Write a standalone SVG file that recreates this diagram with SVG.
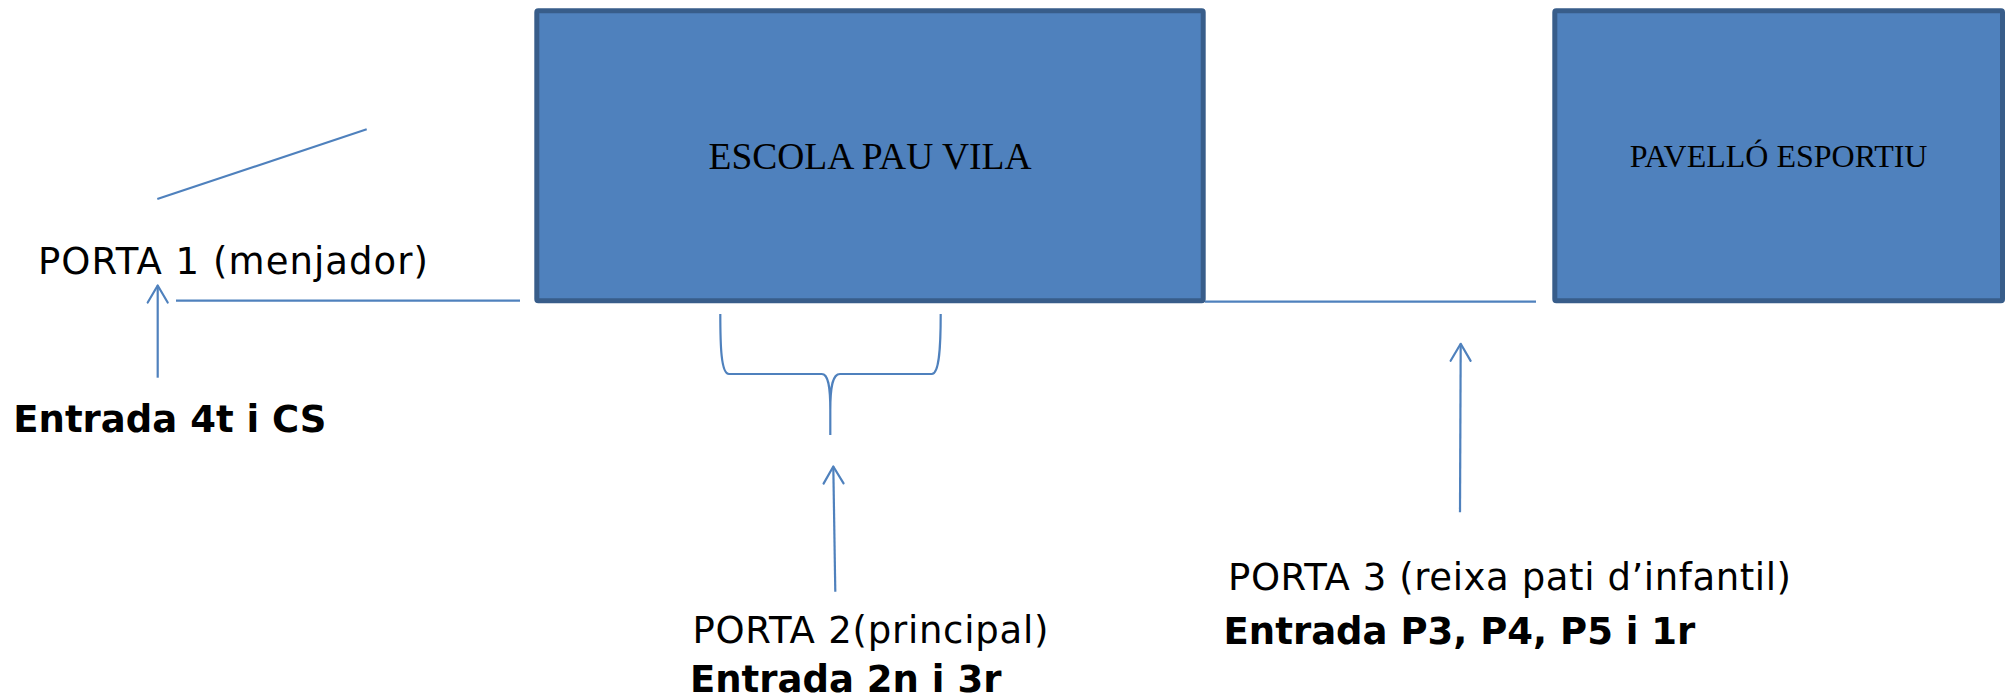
<svg xmlns="http://www.w3.org/2000/svg" width="2008" height="700" viewBox="0 0 2008 700">
<style>
.box{fill:#4F81BD;stroke:#385D8A;stroke-width:5}
.ln{fill:none;stroke:#4F81BD;stroke-width:2.2}
.title{font-family:"Liberation Serif","Times New Roman",serif;fill:#000;text-anchor:middle}
.lbl{font-family:"DejaVu Sans",Verdana,sans-serif;font-size:37px;fill:#000}
.b{font-weight:bold}
</style>
<defs>
<marker id="open" markerUnits="userSpaceOnUse" viewBox="-20 -12 24 24" refX="0" refY="0" markerWidth="24" markerHeight="24" orient="auto">
<path d="M-17,-10 L0,0 L-17,10" fill="none" stroke="#4F81BD" stroke-width="2.2" stroke-linecap="round" stroke-linejoin="round"/>
</marker>
</defs>
<rect width="2008" height="700" fill="#fff"/>
<g id="escola">
<rect class="box" x="536.8" y="10.8" width="666.4" height="290" rx="1.5"/>
<text class="title" x="870" y="169.3" font-size="37.5">ESCOLA PAU VILA</text>
</g>
<g id="pavello">
<rect class="box" x="1554.8" y="10.8" width="447.7" height="290" rx="1.5"/>
<text class="title" x="1778.6" y="167.3" font-size="32">PAVELLÓ ESPORTIU</text>
</g>
<g id="connectors">
<line class="ln" x1="157.3" y1="199" x2="366.7" y2="129.3"/>
<line class="ln" x1="176" y1="300.7" x2="520" y2="300.7"/>
<line class="ln" x1="1205" y1="301.7" x2="1536" y2="301.7"/>
<line class="ln" x1="157.7" y1="377.7" x2="157.7" y2="285.5" marker-end="url(#open)"/>
<line class="ln" x1="835.3" y1="591.7" x2="833.3" y2="466.5" marker-end="url(#open)"/>
<line class="ln" x1="1460" y1="512.3" x2="1460.7" y2="343.8" marker-end="url(#open)"/>
<path class="ln" d="M720.3,314 C720.3,345 721,374 729,374 L821.7,374 C828,374 830.3,385 830.3,410 L830.3,435 M830.3,410 C830.3,385 833,374 840,374 L931.7,374 C939.5,374 940.7,345 940.7,314"/>
</g>
<g id="porta1">
<text class="lbl" x="38" y="274.3" textLength="390" lengthAdjust="spacing">PORTA 1 (menjador)</text>
<text class="lbl b" x="13.3" y="431.7">Entrada 4t i CS</text>
</g>
<g id="porta2">
<text class="lbl" x="692.4" y="642.7" textLength="356" lengthAdjust="spacing">PORTA 2(principal)</text>
<text class="lbl b" x="690" y="692">Entrada 2n i 3r</text>
</g>
<g id="porta3">
<text class="lbl" x="1228" y="590" textLength="563" lengthAdjust="spacing">PORTA 3 (reixa pati d’infantil)</text>
<text class="lbl b" x="1223.6" y="644">Entrada P3, P4, P5 i 1r</text>
</g>
</svg>
